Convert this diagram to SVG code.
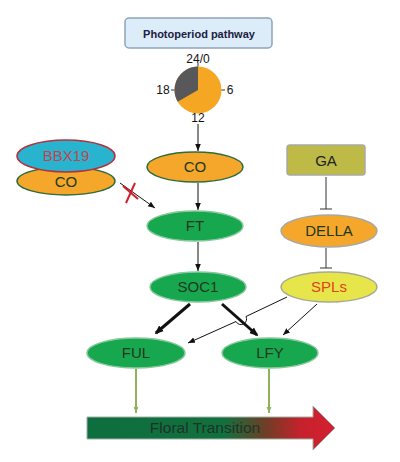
<svg xmlns="http://www.w3.org/2000/svg" width="400" height="462" viewBox="0 0 400 462">
<defs>
<marker id="ah" markerUnits="userSpaceOnUse" markerWidth="7" markerHeight="7" viewBox="0 0 10 10" refX="10" refY="5" orient="auto"><path d="M0,1 L10,5 L0,9 z" fill="#111"/></marker>
<marker id="ahb" markerUnits="userSpaceOnUse" markerWidth="9" markerHeight="9" viewBox="0 0 10 10" refX="8" refY="5" orient="auto"><path d="M0,1 L10,5 L0,9 z" fill="#111"/></marker>
<marker id="ahg" markerUnits="userSpaceOnUse" markerWidth="6" markerHeight="6" viewBox="0 0 10 10" refX="10" refY="5" orient="auto"><path d="M0,1 L10,5 L0,9 z" fill="#8DB45A"/></marker>
<linearGradient id="grad" gradientUnits="userSpaceOnUse" x1="87" y1="0" x2="335" y2="0">
<stop offset="0" stop-color="#0E6E3E"/>
<stop offset="0.55" stop-color="#12703E"/>
<stop offset="0.72" stop-color="#6E3E26"/>
<stop offset="0.86" stop-color="#C4222C"/>
<stop offset="1" stop-color="#D61F30"/>
</linearGradient>
</defs>
<style>
text{font-family:"Liberation Sans",Arial,sans-serif;text-anchor:middle}
.lbl{font-size:15px;fill:#22381E}
.num{font-size:12px;fill:#111}
.orange{fill:#F4A72A;stroke:#2F6B3A;stroke-width:1.5}
.orangeg{fill:#F4A72A;stroke:#A9A9A0;stroke-width:1.5}
.green{fill:#17A74F;stroke:#86C89A;stroke-width:1.5}
.thin{stroke:#111;stroke-width:1;fill:none}
.inh{stroke:#333;stroke-width:1;fill:none}
.thick{stroke:#111;stroke-width:3;fill:none}
.glink{stroke:#8DB45A;stroke-width:2;fill:none}
</style>
<rect width="400" height="462" fill="#fff"/>

<g id="photoperiod">
<rect x="125" y="18" width="147" height="30" rx="4" fill="#DCEDF9" stroke="#8FA4BA" stroke-width="1.5"/>
<text x="199" y="38" style="font-size:11px;font-weight:bold;fill:#1A2040">Photoperiod pathway</text>
</g>

<g id="clock">
<circle cx="198" cy="90" r="23.5" fill="#F5A623"/>
<path d="M198,90 L198,66.5 A23.5,23.5 0 0 0 177.65,101.75 Z" fill="#58585A"/>
<line x1="198" y1="66.5" x2="198" y2="63" stroke="#333" stroke-width="1"/>
<line x1="171" y1="90" x2="174.5" y2="90" stroke="#333" stroke-width="1"/>
<line x1="221.5" y1="90" x2="225" y2="90" stroke="#333" stroke-width="1"/>
<text class="num" x="198" y="63">24/0</text>
<text class="num" x="163" y="94">18</text>
<text class="num" x="230" y="94">6</text>
<text class="num" x="198" y="122">12</text>
</g>

<g id="connectors">
<line class="thin" x1="198" y1="124" x2="198" y2="151" marker-end="url(#ah)"/>
<line class="thin" x1="198" y1="183" x2="198" y2="210" marker-end="url(#ah)"/>
<line class="thin" x1="198" y1="242" x2="198" y2="271" marker-end="url(#ah)"/>
<line class="thin" x1="120" y1="183" x2="155" y2="208" marker-end="url(#ah)"/>
<g stroke="#D0202E" stroke-width="2">
<line x1="123" y1="186" x2="138" y2="199"/>
<line x1="135" y1="183" x2="126" y2="203"/>
</g>
<line class="inh" x1="326" y1="177" x2="326" y2="209"/>
<line class="inh" x1="320" y1="209" x2="332" y2="209"/>
<line class="inh" x1="326" y1="248" x2="326" y2="268"/>
<line class="inh" x1="320" y1="268" x2="332" y2="268"/>
<line class="thick" x1="190" y1="304" x2="156" y2="333" marker-end="url(#ahb)"/>
<line class="thick" x1="222" y1="304" x2="257" y2="335" marker-end="url(#ahb)"/>
<path class="thin" d="M287,297 L246,316.5 A4,4 0 0 1 236,321.5 L188,343" marker-end="url(#ah)"/>
<line class="thin" x1="317" y1="304" x2="283" y2="335" marker-end="url(#ah)"/>
<line class="glink" x1="136" y1="369" x2="136" y2="413" marker-end="url(#ahg)"/>
<line class="glink" x1="269" y1="369" x2="269" y2="413" marker-end="url(#ahg)"/>
</g>

<g id="CO">
<ellipse class="orange" cx="195" cy="167" rx="48" ry="15"/>
<text class="lbl" x="195" y="172">CO</text>
</g>
<g id="CO_left">
<ellipse class="orange" cx="66" cy="181" rx="49" ry="14"/>
<text class="lbl" x="66" y="187">CO</text>
</g>
<g id="BBX19">
<ellipse cx="66" cy="156" rx="49" ry="16" fill="#28B4CF" stroke="#B3303E" stroke-width="1.5"/>
<text class="lbl" x="66" y="161" style="fill:#C4444E">BBX19</text>
</g>
<g id="FT">
<ellipse class="green" cx="195" cy="226" rx="48" ry="15"/>
<text class="lbl" x="195" y="231">FT</text>
</g>
<g id="SOC1">
<ellipse class="green" cx="198" cy="287" rx="48" ry="15"/>
<text class="lbl" x="198" y="292">SOC1</text>
</g>
<g id="GA">
<rect x="287" y="145" width="78" height="30" rx="3" fill="#BDBA48" stroke="#A8A8A4" stroke-width="1.5"/>
<text class="lbl" x="326" y="166" style="fill:#222">GA</text>
</g>
<g id="DELLA">
<ellipse class="orangeg" cx="329" cy="231" rx="48" ry="16"/>
<text class="lbl" x="329" y="236">DELLA</text>
</g>
<g id="SPLs">
<ellipse cx="329" cy="287" rx="48" ry="15" fill="#E6E64A" stroke="#A8A892" stroke-width="1.5"/>
<text class="lbl" x="329" y="292" style="fill:#E0421E">SPLs</text>
</g>
<g id="FUL">
<ellipse class="green" cx="136" cy="353" rx="49" ry="15"/>
<text class="lbl" x="136" y="358">FUL</text>
</g>
<g id="LFY">
<ellipse class="green" cx="270" cy="353" rx="48" ry="15"/>
<text class="lbl" x="270" y="358">LFY</text>
</g>

<g id="floral">
<polygon points="87,417 313,417 313,406 335,428 313,450 313,439 87,439" fill="url(#grad)" stroke="#9FB0A8" stroke-width="1"/>
<text x="205" y="433" style="font-size:15.5px;fill:#1E3328">Floral Transition</text>
</g>
</svg>
